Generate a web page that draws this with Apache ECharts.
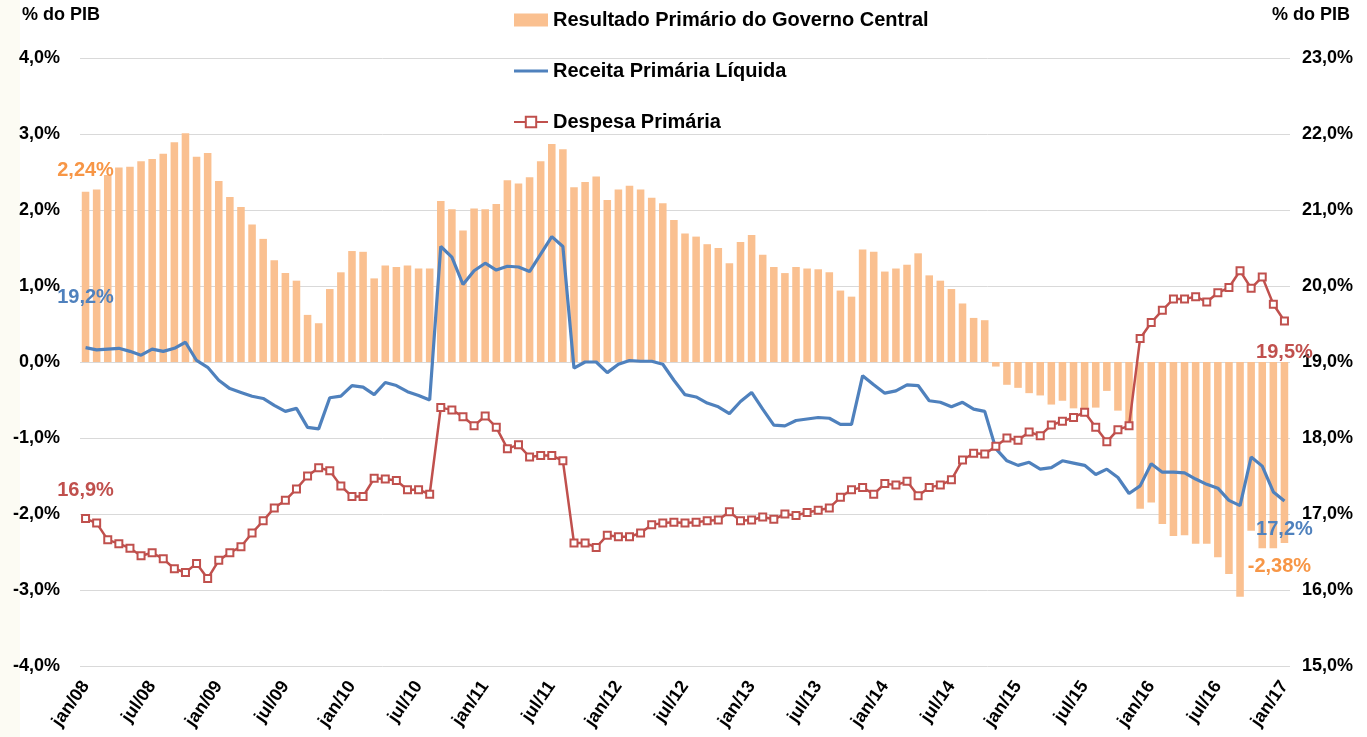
<!DOCTYPE html>
<html>
<head>
<meta charset="utf-8">
<script src="https://cdn.jsdelivr.net/npm/echarts@6/dist/echarts.min.js"></script>
<style>
html,body{margin:0;padding:0;background:#fff;}
#chart{width:1367px;height:737px;}
</style>
</head>
<body>
<div id="chart"></div>
<script>
// ---- data ----
const monthNames = ['jan','fev','mar','abr','mai','jun','jul','ago','set','out','nov','dez'];
const startYear = 2008;
const nMonths = 109; // jan/08 .. jan/17
const categories = [];
for (let i = 0; i < nMonths; i++) {
  const y = startYear + Math.floor(i / 12);
  categories.push(monthNames[i % 12] + '/' + String(y).slice(2));
}

const resultado = [
  2.24, 2.27, 2.46, 2.56, 2.57, 2.64, 2.67, 2.74, 2.89, 3.01, 2.70, 2.75,
  2.38, 2.17, 2.04, 1.81, 1.62, 1.34, 1.17, 1.07, 0.62, 0.51, 0.96, 1.18,
  1.46, 1.45, 1.10, 1.27, 1.25, 1.27, 1.23, 1.23, 2.12, 2.01, 1.73, 2.02,
  2.01, 2.08, 2.39, 2.35, 2.43, 2.64, 2.87, 2.80, 2.30, 2.37, 2.44, 2.13,
  2.27, 2.32, 2.27, 2.16, 2.09, 1.87, 1.69, 1.65, 1.55, 1.50, 1.30, 1.58,
  1.67, 1.41, 1.25, 1.17, 1.25, 1.23, 1.22, 1.18, 0.94, 0.86, 1.48, 1.45,
  1.19, 1.23, 1.28, 1.43, 1.14, 1.07, 0.96, 0.77, 0.58, 0.55, -0.06, -0.30,
  -0.34, -0.41, -0.44, -0.56, -0.51, -0.61, -0.65, -0.60, -0.38, -0.64, -0.89, -1.93,
  -1.85, -2.13, -2.29, -2.28, -2.39, -2.39, -2.57, -2.79, -3.09, -2.22, -2.45, -2.45,
  -2.38
];

const receita = [
  19.19, 19.16, 19.17, 19.18, 19.14, 19.09, 19.17, 19.14, 19.18, 19.26, 19.02, 18.93,
  18.76, 18.65, 18.60, 18.55, 18.52, 18.43, 18.35, 18.39, 18.14, 18.12, 18.53, 18.55,
  18.69, 18.67, 18.57, 18.73, 18.69, 18.61, 18.56, 18.50, 20.52, 20.38, 20.02, 20.20,
  20.30, 20.21, 20.26, 20.25, 20.19, 20.42, 20.65, 20.52, 18.92, 19.00, 19.00, 18.86,
  18.97, 19.02, 19.01, 19.01, 18.97, 18.76, 18.57, 18.54, 18.46, 18.41, 18.32, 18.48,
  18.60, 18.38, 18.17, 18.16, 18.23, 18.25, 18.27, 18.26, 18.18, 18.18, 18.82, 18.70,
  18.59, 18.62, 18.70, 18.69, 18.49, 18.47, 18.41, 18.47, 18.38, 18.35, 17.86, 17.70,
  17.64, 17.68, 17.59, 17.61, 17.70, 17.67, 17.64, 17.52, 17.59, 17.48, 17.27, 17.37,
  17.66, 17.55, 17.55, 17.54, 17.46, 17.39, 17.34, 17.18, 17.11, 17.75, 17.63, 17.29,
  17.17
];

const despesa = [
  16.94, 16.88, 16.66, 16.61, 16.55, 16.45, 16.49, 16.41, 16.28, 16.23, 16.35, 16.15,
  16.39, 16.49, 16.57, 16.75, 16.91, 17.08, 17.18, 17.33, 17.50, 17.61, 17.57, 17.37,
  17.23, 17.23, 17.47, 17.46, 17.44, 17.32, 17.32, 17.26, 18.40, 18.37, 18.28, 18.16,
  18.29, 18.14, 17.86, 17.91, 17.75, 17.77, 17.77, 17.70, 16.62, 16.62, 16.56, 16.72,
  16.70, 16.70, 16.75, 16.86, 16.88, 16.89, 16.88, 16.89, 16.91, 16.92, 17.03, 16.91,
  16.92, 16.96, 16.93, 17.00, 16.98, 17.02, 17.05, 17.08, 17.22, 17.32, 17.35, 17.26,
  17.40, 17.38, 17.43, 17.24, 17.35, 17.38, 17.45, 17.71, 17.80, 17.79, 17.89, 18.00,
  17.97, 18.08, 18.03, 18.17, 18.22, 18.27, 18.34, 18.14, 17.95, 18.11, 18.16, 19.31,
  19.52, 19.68, 19.83, 19.83, 19.86, 19.79, 19.91, 19.98, 20.20, 19.97, 20.12, 19.76,
  19.54
];

const leftTicks = { min: -4, max: 4, step: 1 };
const rightTicks = { min: 15, max: 23, step: 1 };

// ---- styles ----
const FONT = "'Liberation Sans', Arial, sans-serif";
const C_BAR = '#FAC090', C_BAR_LBL = '#F79646';
const C_BLUE = '#4F81BD', C_RED = '#C0504D';

function pct(v, d) { return v.toFixed(d).replace('.', ',') + '%'; }

function withEndLabels(arr, color, decimals, firstLbl, lastLbl) {
  const base = { show: true, color: color, fontFamily: FONT, fontWeight: 'bold', fontSize: 20 };
  return arr.map((v, i) => {
    if (i === 0) return { value: v, label: Object.assign({}, base, { formatter: p => pct(p.value, decimals) }, firstLbl) };
    if (i === arr.length - 1) return { value: v, label: Object.assign({}, base, { formatter: p => pct(p.value, decimals) }, lastLbl) };
    return v;
  });
}

const chart = echarts.init(document.getElementById('chart'), null, { renderer: 'canvas' });

const option = {
  animation: false,
  backgroundColor: '#ffffff',
  graphic: [
    { type: 'rect', left: 0, top: 0, shape: { width: 20, height: 737 }, style: { fill: '#FCFBF3' }, z: -10 },
    { type: 'text', left: 22, top: 6, style: { text: '% do PIB', fill: '#000', font: "bold 18px 'Liberation Sans', sans-serif" } },
    { type: 'text', right: 17, top: 6, style: { text: '% do PIB', fill: '#000', font: "bold 18px 'Liberation Sans', sans-serif" } }
  ],
  legend: {
    orient: 'vertical',
    left: 508,
    top: 4,
    itemWidth: 34,
    itemHeight: 13,
    itemGap: 29,
    textStyle: { fontFamily: FONT, fontWeight: 'bold', fontSize: 20, color: '#000', lineHeight: 22 },
    data: [
      { name: 'Resultado Primário do Governo Central', icon: 'rect' },
      { name: 'Receita Primária Líquida', icon: 'path://M0,0 L34,0 L34,3 L0,3 Z' },
      { name: 'Despesa Primária' }
    ]
  },
  grid: { left: 80, right: 77, top: 58, bottom: 71, containLabel: false },
  xAxis: {
    type: 'category',
    data: categories,
    boundaryGap: true,
    axisLine: { show: false },
    axisTick: { show: false },
    axisLabel: {
      interval: 5,
      rotate: 55,
      margin: 17,
      fontFamily: FONT,
      fontWeight: 'bold',
      fontSize: 18,
      color: '#000'
    },
    splitLine: { show: false }
  },
  yAxis: [
    {
      type: 'value',
      min: leftTicks.min, max: leftTicks.max, interval: leftTicks.step,
      axisLine: { show: false }, axisTick: { show: false },
      axisLabel: { margin: 20, fontFamily: FONT, fontWeight: 'bold', fontSize: 18, color: '#000', formatter: v => pct(v, 1) },
      splitLine: { show: true, lineStyle: { color: '#D9D9D9', width: 1 } }
    },
    {
      type: 'value',
      min: rightTicks.min, max: rightTicks.max, interval: rightTicks.step,
      axisLine: { show: false }, axisTick: { show: false },
      axisLabel: { margin: 12, fontFamily: FONT, fontWeight: 'bold', fontSize: 18, color: '#000', formatter: v => pct(v, 1) },
      splitLine: { show: false }
    }
  ],
  series: [
    {
      name: 'Resultado Primário do Governo Central',
      type: 'bar',
      yAxisIndex: 0,
      barWidth: '68%',
      itemStyle: { color: C_BAR },
      data: withEndLabels(resultado, C_BAR_LBL, 2,
        { position: 'top', distance: 11 },
        { position: 'bottom', distance: 14, offset: [-5, 0] }),
      z: 1
    },
    {
      name: 'Receita Primária Líquida',
      type: 'line',
      yAxisIndex: 1,
      symbol: 'circle',
      symbolSize: 0,
      showSymbol: true,
      showAllSymbol: true,
      lineStyle: { color: C_BLUE, width: 3.2 },
      itemStyle: { color: C_BLUE },
      data: withEndLabels(receita, C_BLUE, 1,
        { position: 'top', distance: 40 },
        { position: 'bottom', distance: 18 }),
      z: 3
    },
    {
      name: 'Despesa Primária',
      type: 'line',
      yAxisIndex: 1,
      symbol: 'emptyRect',
      symbolSize: 7,
      showAllSymbol: true,
      lineStyle: { color: C_RED, width: 2.5 },
      itemStyle: { color: C_RED, borderWidth: 1.5 },
      data: withEndLabels(despesa, C_RED, 1,
        { position: 'top', distance: 14 },
        { position: 'bottom', distance: 17 }),
      z: 4
    }
  ]
};

chart.setOption(option);
</script>
</body>
</html>
